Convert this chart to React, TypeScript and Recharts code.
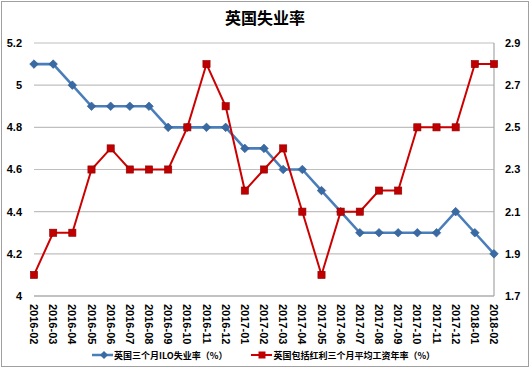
import React from 'react';
import { LineChart, Line, XAxis, YAxis, CartesianGrid, Legend } from 'recharts';

const title = '英国失业率';
const months = [
  '2016-02', '2016-03', '2016-04', '2016-05', '2016-06', '2016-07', '2016-08', '2016-09',
  '2016-10', '2016-11', '2016-12', '2017-01', '2017-02', '2017-03', '2017-04', '2017-05',
  '2017-06', '2017-07', '2017-08', '2017-09', '2017-10', '2017-11', '2017-12', '2018-01', '2018-02',
];
const unemployment = [
  5.1, 5.1, 5.0, 4.9, 4.9, 4.9, 4.9, 4.8, 4.8, 4.8, 4.8, 4.7, 4.7, 4.6, 4.6, 4.5,
  4.4, 4.3, 4.3, 4.3, 4.3, 4.3, 4.4, 4.3, 4.2,
];
const wageGrowth = [
  1.8, 2.0, 2.0, 2.3, 2.4, 2.3, 2.3, 2.3, 2.5, 2.8, 2.6, 2.2, 2.3, 2.4, 2.1, 1.8,
  2.1, 2.1, 2.2, 2.2, 2.5, 2.5, 2.5, 2.8, 2.8,
];
const leftTicks = [4, 4.2, 4.4, 4.6, 4.8, 5, 5.2];
const rightTicks = [1.7, 1.9, 2.1, 2.3, 2.5, 2.7, 2.9];
const seriesNames = ['英国三个月ILO失业率（%）', '英国包括红利三个月平均工资年率（%）'];

const BLUE = '#4A7EBB';
const BLUE_DOT = '#3A6AA3';
const RED = '#CC0000';
const RED_DOT = '#C00000';
const LATIN = '"Liberation Sans", Arial, sans-serif';
const CJK = '"Noto Sans CJK SC", "Liberation Sans", sans-serif';

const data = months.map((m, i) => ({ month: m, u: unemployment[i], w: wageGrowth[i] }));

const DiamondDot = (props: any) => {
  const { cx, cy, index } = props;
  if (cx == null || cy == null) return <g key={`d${index}`} />;
  const r = 4.3;
  return (
    <polygon
      key={`d${index}`}
      points={`${cx},${cy - r} ${cx + r},${cy} ${cx},${cy + r} ${cx - r},${cy}`}
      fill={BLUE_DOT}
      stroke="#2F5B8E"
      strokeWidth={0.6}
    />
  );
};

const SquareDot = (props: any) => {
  const { cx, cy, index } = props;
  if (cx == null || cy == null) return <g key={`s${index}`} />;
  const h = 3.6;
  return (
    <rect
      key={`s${index}`}
      x={cx - h}
      y={cy - h}
      width={h * 2}
      height={h * 2}
      fill={RED_DOT}
      stroke="#8E0000"
      strokeWidth={0.6}
    />
  );
};

const XTick = (props: any) => {
  const { x, y, payload } = props;
  return (
    <g transform={`translate(${x},${y}) rotate(90)`}>
      <text
        x={0}
        y={0}
        textAnchor="start"
        dominantBaseline="central"
        fontFamily={LATIN}
        fontSize={11}
        fontWeight="bold"
        fill="#000"
      >
        {payload.value}
      </text>
    </g>
  );
};

const renderLegend = () => (
  <div
    style={{
      display: 'flex',
      alignItems: 'center',
      paddingLeft: 92,
      fontFamily: CJK,
      fontSize: 9,
      fontWeight: 'bold',
      color: '#000',
      height: 20,
    }}
  >
    <div style={{ display: 'flex', alignItems: 'center' }}>
      <svg width={21} height={10} style={{ display: 'block' }}>
        <line x1={0} y1={5} x2={21} y2={5} stroke={BLUE} strokeWidth={2.5} />
        <polygon points="12,1 16,5 12,9 8,5" fill={BLUE_DOT} />
      </svg>
      <span style={{ marginLeft: 1 }}>{seriesNames[0]}</span>
    </div>
    <div style={{ display: 'flex', alignItems: 'center', marginLeft: 24 }}>
      <svg width={21} height={10} style={{ display: 'block' }}>
        <line x1={0} y1={5} x2={21} y2={5} stroke={RED} strokeWidth={2} />
        <rect x={7.5} y={1.5} width={7} height={7} fill={RED_DOT} />
      </svg>
      <span style={{ marginLeft: 1 }}>{seriesNames[1]}</span>
    </div>
  </div>
);

export default function App() {
  return (
    <div style={{ position: 'absolute', left: 0, top: 0, width: 530, height: 370, background: '#fff' }}>
      <div
        style={{
          position: 'absolute',
          left: 1,
          top: 1,
          width: 526,
          height: 364,
          border: '1px solid #A0A0A0',
        }}
      />
      <div
        style={{
          position: 'absolute',
          left: 0,
          top: 6,
          width: 530,
          textAlign: 'center',
          fontFamily: CJK,
          fontSize: 16,
          fontWeight: 'bold',
          lineHeight: '23px',
          color: '#000',
        }}
      >
        {title}
      </div>
      <div style={{ position: 'absolute', left: 0, top: 0 }}>
        <LineChart width={530} height={370} data={data} margin={{ top: 43, right: 0, bottom: 26, left: 0 }}>
          <CartesianGrid vertical={false} stroke="#BFBFBF" strokeWidth={1.2} />
          <XAxis
            dataKey="month"
            interval={0}
            height={48}
            tickLine={false}
            tickSize={6}
            tickMargin={2}
            axisLine={{ stroke: '#A6A6A6', strokeWidth: 1.2 }}
            tick={<XTick />}
          />
          <YAxis
            yAxisId={0}
            orientation="left"
            width={34}
            domain={[4, 5.2]}
            ticks={leftTicks}
            axisLine={false}
            tickLine={false}
            tickSize={6}
            tickMargin={6}
            tick={{ fontFamily: LATIN, fontSize: 11, fontWeight: 'bold', fill: '#000' }}
          />
          <YAxis
            yAxisId="right"
            orientation="right"
            width={36}
            domain={[1.7, 2.9]}
            ticks={rightTicks}
            axisLine={{ stroke: '#A6A6A6', strokeWidth: 1.2 }}
            tickLine={false}
            tickSize={6}
            tickMargin={5}
            tick={{ fontFamily: LATIN, fontSize: 11, fontWeight: 'bold', fill: '#000' }}
          />
          <Legend
            verticalAlign="middle"
            align="center"
            layout="horizontal"
            wrapperStyle={{ top: 345, left: 0, width: 530 }}
            content={renderLegend}
          />
          <Line
            yAxisId={0}
            type="linear"
            dataKey="u"
            name={seriesNames[0]}
            stroke={BLUE}
            strokeWidth={2.6}
            dot={DiamondDot}
            activeDot={false}
            isAnimationActive={false}
          />
          <Line
            yAxisId="right"
            type="linear"
            dataKey="w"
            name={seriesNames[1]}
            stroke={RED}
            strokeWidth={2}
            dot={SquareDot}
            activeDot={false}
            isAnimationActive={false}
          />
        </LineChart>
      </div>
    </div>
  );
}
